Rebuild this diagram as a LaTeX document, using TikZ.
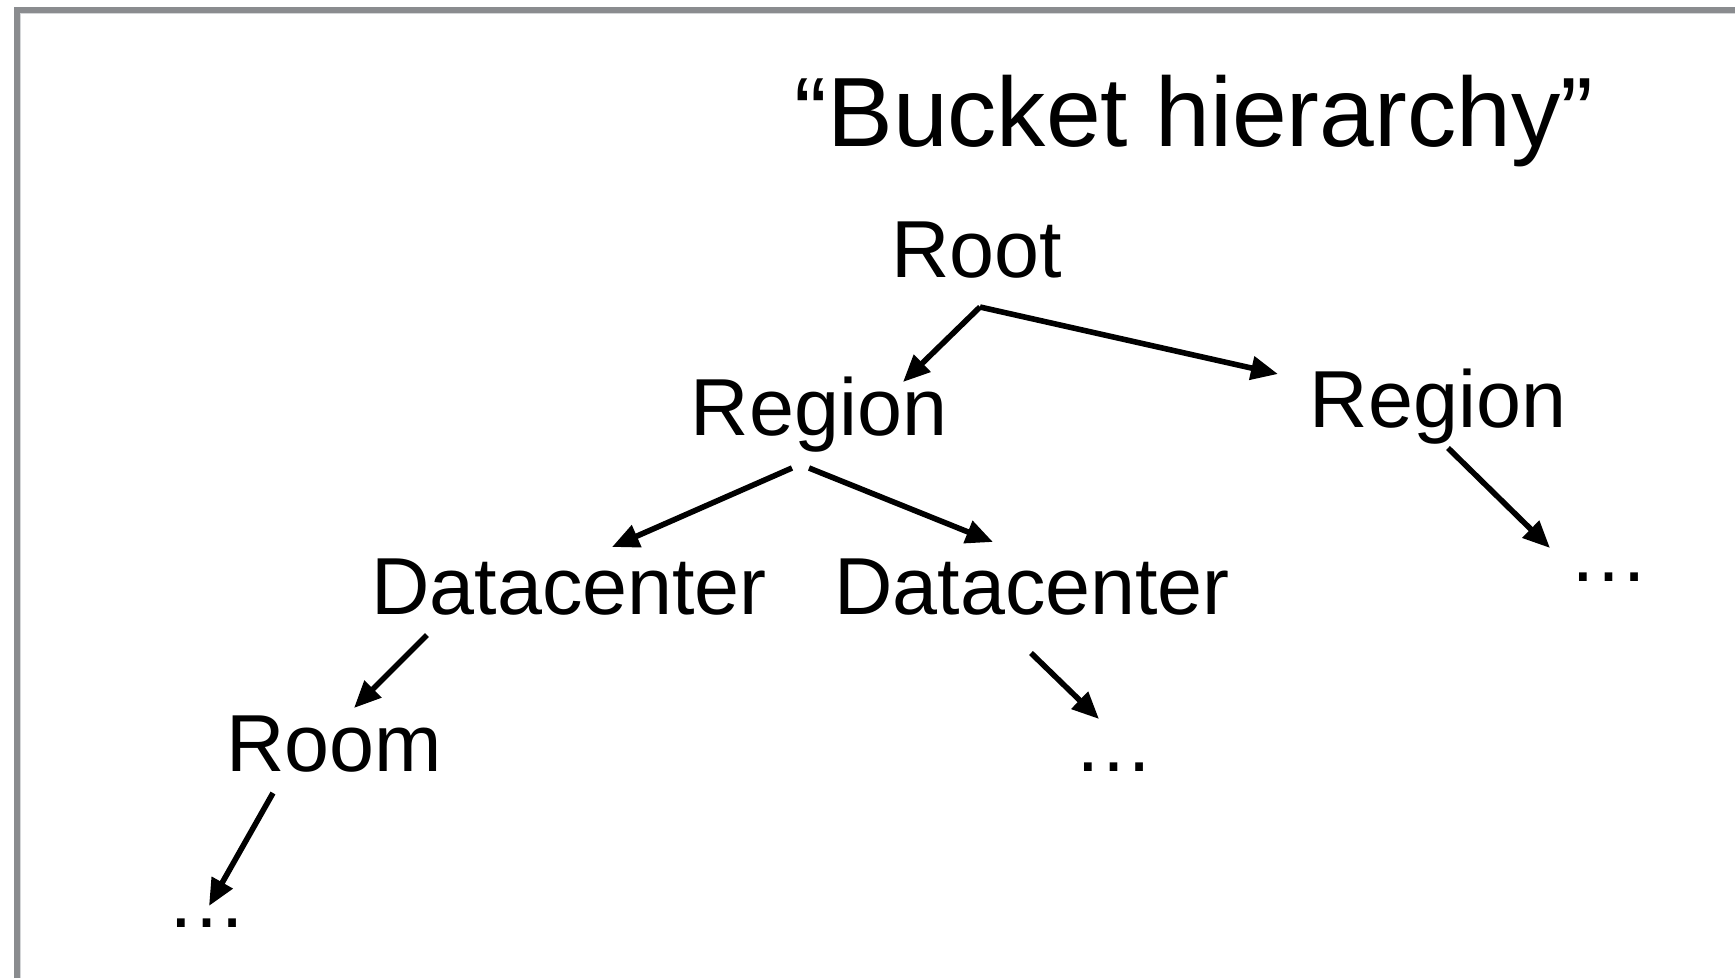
\documentclass[tikz,border=0pt]{standalone}
\usepackage{fontspec}
\setmainfont{Liberation Sans}
\usetikzlibrary{arrows.meta}
\definecolor{framegray}{HTML}{8A8C8F}
\definecolor{framelight}{HTML}{D4D6D8}
\begin{document}
\begin{tikzpicture}[x=0.01cm,y=-0.01cm,
  lbl/.style={anchor=base,inner sep=0pt,font=\fontsize{23}{28}\selectfont},
  arr/.style={line width=0.056cm,-{Triangle[length=0.27cm,width=0.23cm]}}]
\useasboundingbox (0,0) rectangle (1735,978);
\draw[framegray,line width=0.06cm] (17,978) -- (17,10) -- (1735,10);
\draw[framelight,line width=0.01cm] (20.5,978) -- (20.5,13.5) -- (1735,13.5);
\node[lbl,font=\fontsize{28}{33}\selectfont] (title) at (1194,146) {“Bucket hierarchy”};
\node[lbl] (root) at (977,277) {Root};
\node[lbl] (regL) at (819,435) {Region};
\node[lbl] (regR) at (1438,427) {Region};
\node[lbl] (dcL) at (569,614) {Datacenter};
\node[lbl] (dcR) at (1032,614) {Datacenter};
\node[lbl] (room) at (334,771) {Room};
\node[lbl] (dotsR) at (1609,581) {\dots};
\node[lbl] (dotsDC) at (1114,771) {\dots};
\node[lbl] (dotsRoom) at (207,927) {\dots};
\draw[arr] ([shift={(3,30)}]root.base) -- ([shift={(84,-53)}]regL.base);
\draw[arr] ([shift={(3,30)}]root.base) -- ([shift={(-160,-53)}]regR.base);
\draw[arr] ([shift={(-27,33)}]regL.base) -- ([shift={(43,-67)}]dcL.base);
\draw[arr] ([shift={(-10,33)}]regL.base) -- ([shift={(-39,-72)}]dcR.base);
\draw[arr] ([shift={(-142,21)}]dcL.base) -- ([shift={(20,-63)}]room.base);
\draw[arr] ([shift={(-1,39)}]dcR.base) -- ([shift={(-15,-52)}]dotsDC.base);
\draw[arr] ([shift={(-61,22)}]room.base) -- ([shift={(2,-21)}]dotsRoom.base);
\draw[arr] ([shift={(10,21)}]regR.base) -- ([shift={(-59,-33)}]dotsR.base);
\end{tikzpicture}
\end{document}
